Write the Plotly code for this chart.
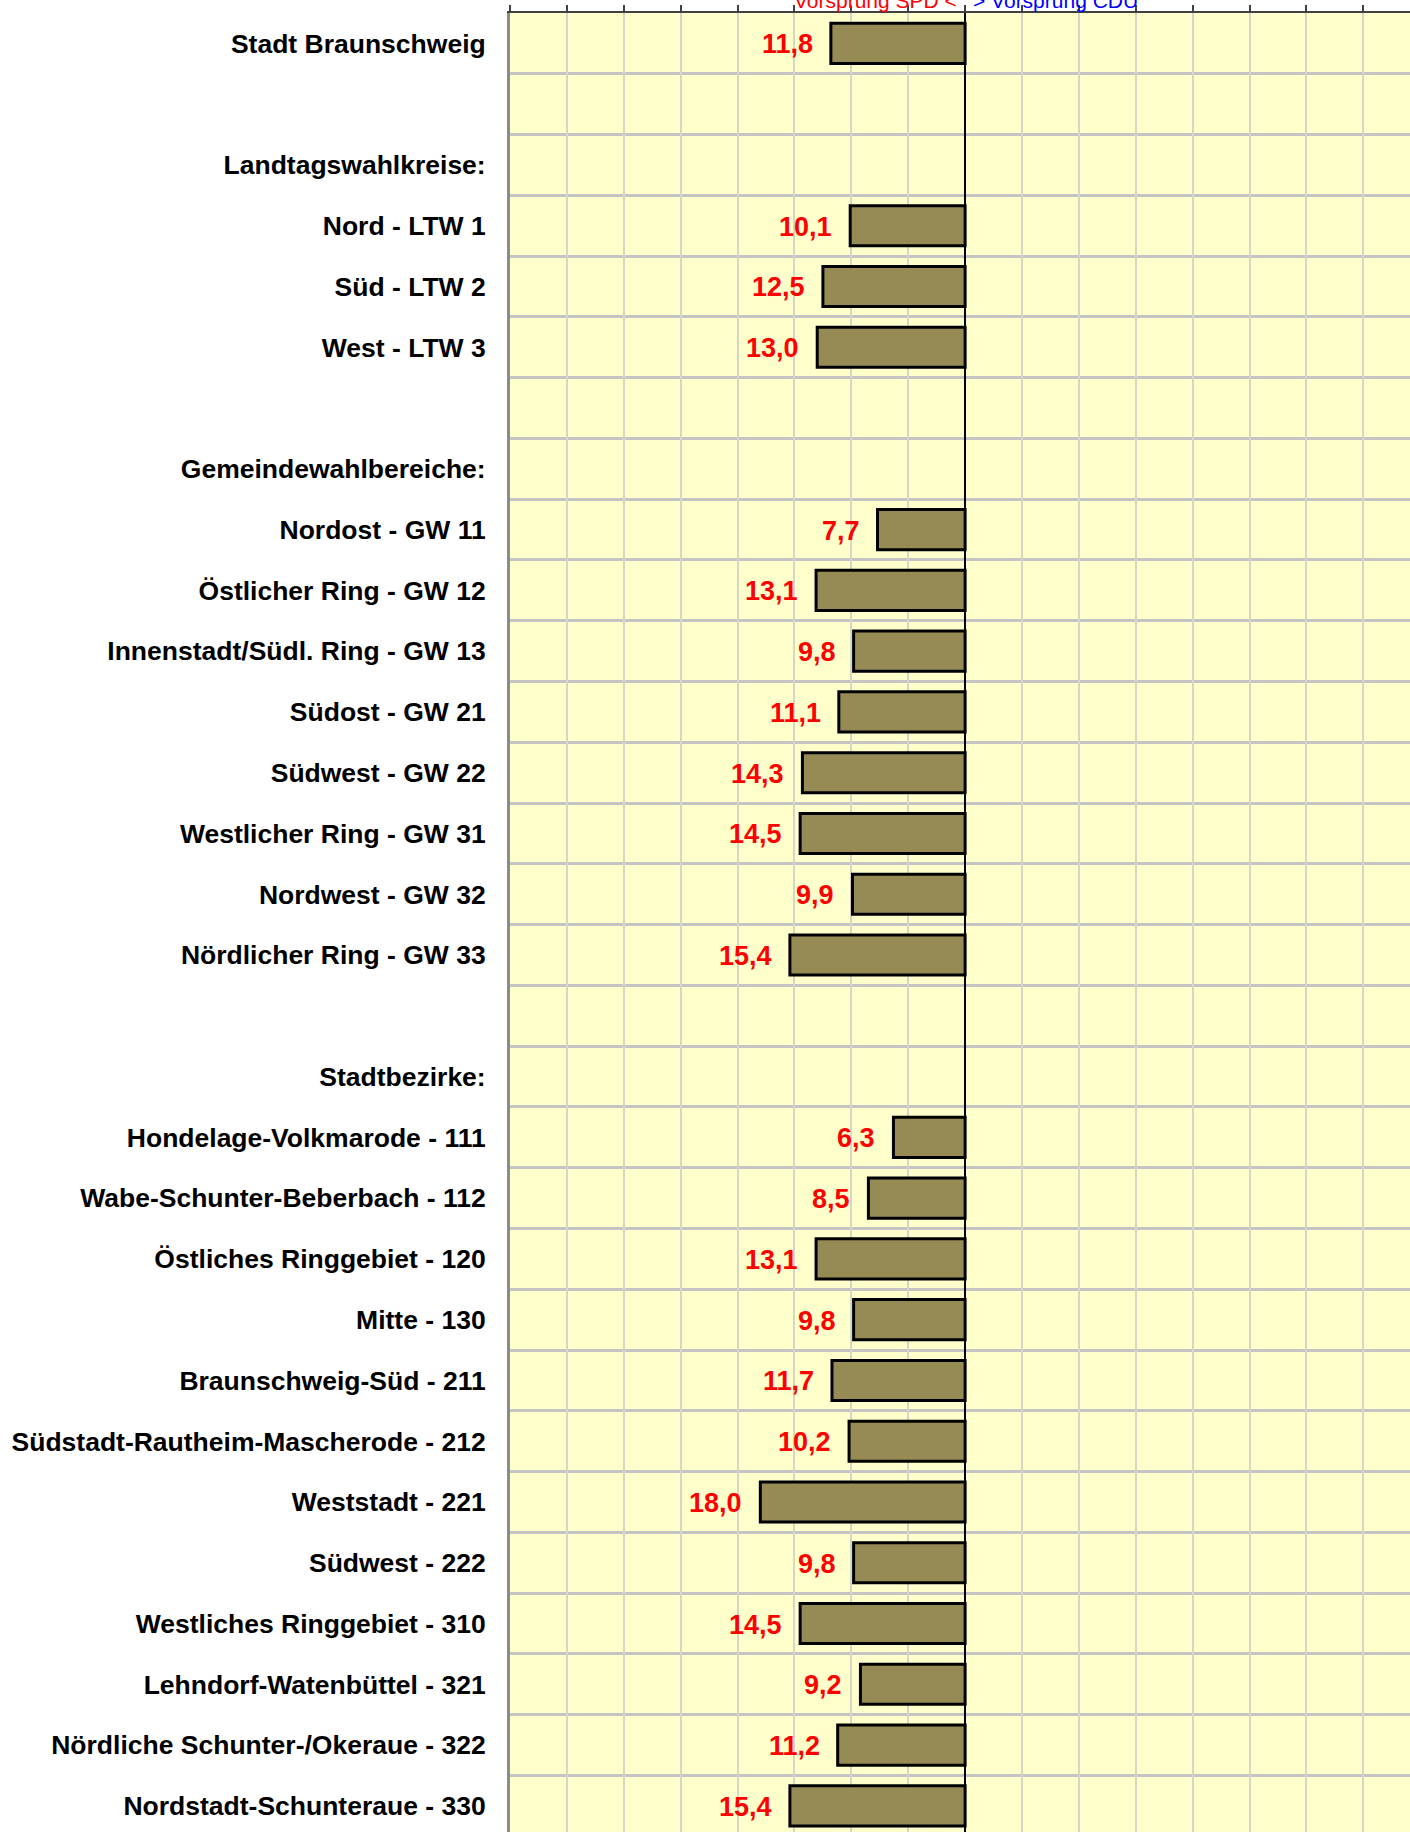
import plotly.graph_objects as go

categories = [
    "Stadt Braunschweig", "", "Landtagswahlkreise:",
    "Nord - LTW 1", "Süd - LTW 2", "West - LTW 3", "",
    "Gemeindewahlbereiche:",
    "Nordost - GW 11", "Östlicher Ring - GW 12", "Innenstadt/Südl. Ring - GW 13",
    "Südost - GW 21", "Südwest - GW 22", "Westlicher Ring - GW 31",
    "Nordwest - GW 32", "Nördlicher Ring - GW 33", "",
    "Stadtbezirke:",
    "Hondelage-Volkmarode - 111", "Wabe-Schunter-Beberbach - 112",
    "Östliches Ringgebiet - 120", "Mitte - 130", "Braunschweig-Süd - 211",
    "Südstadt-Rautheim-Mascherode - 212", "Weststadt - 221", "Südwest - 222",
    "Westliches Ringgebiet - 310", "Lehndorf-Watenbüttel - 321",
    "Nördliche Schunter-/Okeraue - 322", "Nordstadt-Schunteraue - 330",
]
# SPD lead in percentage points (None = heading / blank row)
spd_lead = [
    11.8, None, None,
    10.1, 12.5, 13.0, None,
    None,
    7.7, 13.1, 9.8, 11.1, 14.3, 14.5, 9.9, 15.4, None,
    None,
    6.3, 8.5, 13.1, 9.8, 11.7, 10.2, 18.0, 9.8, 14.5, 9.2, 11.2, 15.4,
]

n = len(categories)
idx = list(range(n))
bar_y = [i for i, v in zip(idx, spd_lead) if v is not None]
bar_x = [-v for v in spd_lead if v is not None]
bar_txt = [f"{v:.1f}".replace(".", ",") for v in spd_lead if v is not None]
boundaries = [i - 0.5 for i in idx] + [n - 0.5]

XMIN, XMAX = -40, 39.1
Y_TOP, Y_BOTTOM = -0.5, 29.43

fig = go.Figure()
fig.add_trace(go.Bar(
    x=bar_x, y=bar_y, orientation="h", width=0.66,
    marker=dict(color="#968b55", line=dict(color="#000000", width=3)),
    hoverinfo="skip", showlegend=False,
))

annotations = []
for xv, yv, t in zip(bar_x, bar_y, bar_txt):
    annotations.append(dict(
        x=xv, y=yv, xref="x", yref="y", text=t, showarrow=False,
        xanchor="right", yanchor="middle", xshift=-16, yshift=-1,
        font=dict(family="Liberation Sans, Arial", size=27, color="#ff0000", weight="bold"),
    ))
annotations.append(dict(
    x=0, y=1, xref="x", yref="paper", text="Vorsprung SPD <", showarrow=False,
    xanchor="right", yanchor="bottom", xshift=-6, yshift=-1,
    font=dict(family="Liberation Sans, Arial", size=21, color="#ff0000"),
))
annotations.append(dict(
    x=0, y=1, xref="x", yref="paper", text="> Vorsprung CDU", showarrow=False,
    xanchor="left", yanchor="bottom", xshift=6, yshift=-1,
    font=dict(family="Liberation Sans, Arial", size=21, color="#0000ff"),
))

zero_pos = (0 - XMIN) / (XMAX - XMIN)

fig.update_layout(
    width=1410, height=1832,
    margin=dict(l=510, r=0, t=13, b=0, pad=0, autoexpand=False),
    paper_bgcolor="#ffffff", plot_bgcolor="#ffffcc",
    bargap=0.3,
    annotations=annotations,
    xaxis=dict(
        range=[XMIN, XMAX], side="top", tick0=0, dtick=5, automargin=False,
        showticklabels=False, ticks="outside", ticklen=6, tickwidth=1.5,
        tickcolor="#404040",
        showline=True, linecolor="#404040", linewidth=2,
        showgrid=True, gridcolor="#d6d6c6", gridwidth=1.5,
        zeroline=True, zerolinecolor="#000000", zerolinewidth=1.5,
        fixedrange=True,
    ),
    yaxis=dict(
        range=[Y_BOTTOM, Y_TOP], tickmode="array", tickvals=idx, ticktext=categories,
        ticks="", ticklabelstandoff=16, automargin=False,
        tickfont=dict(family="Liberation Sans, Arial", size=26.5, color="#000000", weight="bold"),
        showgrid=False, zeroline=False,
        showline=True, linecolor="#8c8c8c", linewidth=3,
        minor=dict(tickvals=boundaries, showgrid=True, gridcolor="#c4c4c4", gridwidth=2.5, ticks=""),
        fixedrange=True,
    ),
    yaxis2=dict(
        overlaying="y", anchor="free", position=zero_pos, side="left", automargin=False,
        range=[Y_BOTTOM, Y_TOP], tickmode="array", tickvals=boundaries,
        showticklabels=False, ticks="outside", ticklen=8, tickwidth=2, tickcolor="#404040",
        showline=False, showgrid=False, zeroline=False, fixedrange=True,
    ),
)

fig.write_html(
    "out.html",
    config={"displayModeBar": False},
    post_script="document.body.style.margin='0';document.documentElement.style.overflow='hidden';document.body.style.overflow='hidden';",
)
